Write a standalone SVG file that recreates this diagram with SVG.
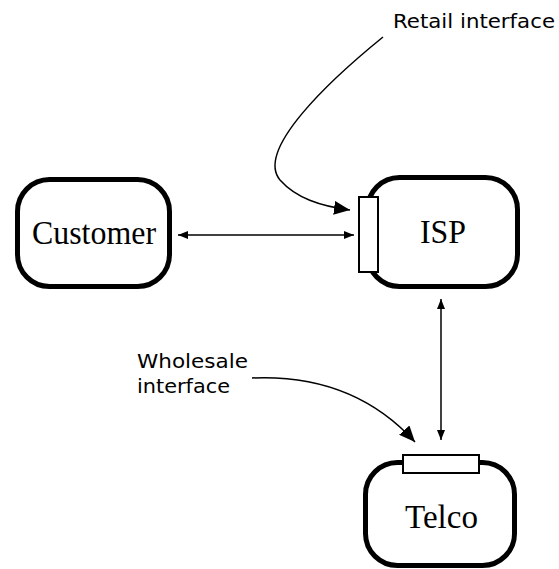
<svg xmlns="http://www.w3.org/2000/svg" width="559" height="569" viewBox="0 0 559 569">
<style>
.box{fill:#fff;stroke:#000;stroke-width:5}
.port{fill:#fff;stroke:#000;stroke-width:2}
.title{font-family:"Liberation Serif","Times New Roman",serif;font-size:34px;fill:#000}
.lbl{font-family:"DejaVu Sans",Verdana,sans-serif;font-size:19px;fill:#000}
.c{fill:none;stroke:#000;stroke-width:1.5}
</style>
<defs>
<marker id="sa" viewBox="0 0 10 8" refX="10" refY="4" markerWidth="10" markerHeight="8" markerUnits="userSpaceOnUse" orient="auto-start-reverse">
<path d="M0,0 L10,4 L0,8 z" fill="#000"/>
</marker>
<marker id="la" viewBox="0 0 16 14" refX="16" refY="7" markerWidth="16" markerHeight="14" markerUnits="userSpaceOnUse" orient="auto">
<path d="M0,0 L16,7 L0,14 z" fill="#000"/>
</marker>
</defs>
<g id="connectors">
<line class="c" x1="178" y1="235" x2="354" y2="235" marker-start="url(#sa)" marker-end="url(#sa)"/>
<line class="c" x1="441" y1="299" x2="441" y2="440" marker-start="url(#sa)" marker-end="url(#sa)"/>
<path class="c" d="M383,37 C330,80 255,150 280,180 C296,198 320,206 350,210" marker-end="url(#la)"/>
<path class="c" d="M252,378 C320,375 375,398 415,442" marker-end="url(#la)"/>
</g>
<g id="customer">
<rect class="box" x="17.5" y="179.5" width="152" height="107" rx="32"/>
<text class="title" x="32" y="244" textLength="124" lengthAdjust="spacingAndGlyphs">Customer</text>
</g>
<g id="isp">
<rect class="box" x="367.5" y="177.5" width="150" height="109" rx="32"/>
<rect class="port" x="359" y="197" width="19" height="75"/>
<text class="title" x="420" y="243" textLength="46" lengthAdjust="spacingAndGlyphs">ISP</text>
</g>
<g id="telco">
<rect class="box" x="365.5" y="462.5" width="149" height="103" rx="32"/>
<rect class="port" x="403" y="455" width="76" height="18"/>
<text class="title" x="405" y="528" textLength="73" lengthAdjust="spacingAndGlyphs">Telco</text>
</g>
<g id="labels">
<text class="lbl" x="393" y="28" textLength="162" lengthAdjust="spacingAndGlyphs">Retail interface</text>
<text class="lbl" x="137" y="368" textLength="111" lengthAdjust="spacingAndGlyphs">Wholesale</text>
<text class="lbl" x="137" y="393" textLength="93" lengthAdjust="spacingAndGlyphs">interface</text>
</g>
</svg>
